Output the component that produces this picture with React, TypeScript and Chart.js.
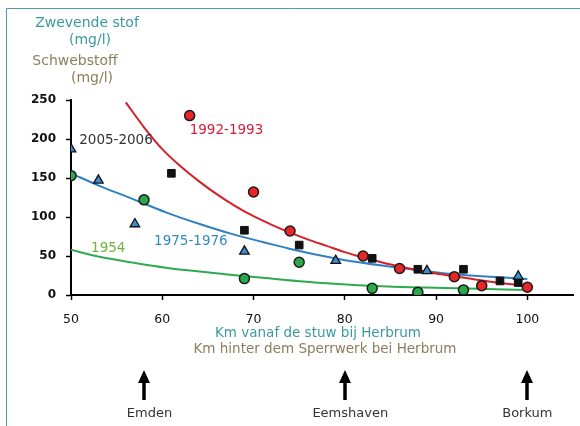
import React, { useEffect, useRef } from "react";
import { Chart, registerables } from "chart.js";

Chart.register(...registerables);

// Measured samples (km from the Herbrum weir, suspended matter mg/l)
const redKm = [63, 70, 74, 82, 86, 92, 95, 100];
const redVal = [230, 132, 82, 50, 34, 23.5, 12, 10];

const squareKm = [61, 69, 75, 83, 88, 93, 97, 99];
const squareVal = [156, 83, 64, 47, 33, 33, 18, 16];

const triKm = [50, 53, 57, 69, 79, 89, 99];
const triVal = [187, 147, 91, 56, 44, 31, 24];

const greenKm = [50, 58, 69, 75, 83, 88, 93];
const greenVal = [153, 122, 21, 42, 8.5, 3.5, 6.5];

// Trend curves
const redCurveKm = [56, 58, 60, 62, 64, 66, 68, 70, 72, 74, 76, 78, 80, 82, 84, 86, 88, 90, 92, 94, 96, 98, 100];
const redCurveVal = [247, 215, 187, 165, 146, 129, 114, 101, 90, 80, 71, 63, 55, 48, 42, 36.5, 32, 27.5, 24, 20.5, 17, 14, 11.5];

const blueCurveKm = [50, 53.1, 56.8, 60.4, 64.1, 67.7, 71, 74.4, 79.9, 85.3, 90.8, 100];
const blueCurveVal = [156, 140, 123, 106, 91, 78, 68, 58, 45, 36, 28, 20.5];

const greenCurveKm = [50, 53.1, 56.8, 60.4, 64.1, 67.7, 71, 78, 85.3, 92.6, 100];
const greenCurveVal = [58, 49, 41.5, 35, 30, 25.6, 22, 15, 10.6, 8.6, 6.4];

// Series labels: text, km, value
const seriesLabels = ["2005-2006", "1992-1993", "1975-1976", "1954"];
const seriesLabelKm = [50.9, 63.0, 59.1, 52.2];
const seriesLabelVal = [198, 211.5, 68.3, 59.4];
const seriesLabelColors = ["#333333", "#d3203a", "#2f8cc4", "#6cb33f"];

// Places along the river
const places = ["Emden", "Eemshaven", "Borkum"];
const placeKm = [58, 80, 100];
const placeLabelKm = [58.6, 80.6, 100];

const TEAL = "#3a9a9f";
const BROWN = "#8c7d5c";
const FONT = "'DejaVu Sans', Verdana, sans-serif";

const pts = (xs: number[], ys: number[]) => xs.map((x, i) => ({ x, y: ys[i] }));

const overlay = {
  id: "overlay",
  beforeDraw(chart: any) {
    const ctx = chart.ctx as CanvasRenderingContext2D;
    ctx.save();
    ctx.fillStyle = "#ffffff";
    ctx.fillRect(0, 0, chart.width, chart.height);
    ctx.strokeStyle = "#4a9ea0";
    ctx.lineWidth = 1;
    ctx.beginPath();
    ctx.moveTo(6.5, chart.height);
    ctx.lineTo(6.5, 8.5);
    ctx.lineTo(chart.width, 8.5);
    ctx.stroke();
    ctx.restore();
  },
  afterDraw(chart: any) {
    const ctx = chart.ctx as CanvasRenderingContext2D;
    const xs = chart.scales.x;
    const ys = chart.scales.y;
    ctx.save();
    ctx.textBaseline = "middle";

    // Axis titles for the value axis
    ctx.textAlign = "center";
    ctx.font = `14px ${FONT}`;
    ctx.fillStyle = TEAL;
    ctx.fillText("Zwevende stof", 87, 23);
    ctx.fillText("(mg/l)", 90, 40);
    ctx.fillStyle = BROWN;
    ctx.fillText("Schwebstoff", 75, 61);
    ctx.fillText("(mg/l)", 92, 78);

    // Axis titles for the distance axis
    ctx.font = `13.5px ${FONT}`;
    ctx.fillStyle = TEAL;
    ctx.fillText("Km vanaf de stuw bij Herbrum", 318, 333);
    ctx.fillStyle = BROWN;
    ctx.fillText("Km hinter dem Sperrwerk bei Herbrum", 325, 349);

    // Series labels
    ctx.textAlign = "left";
    ctx.font = `13.5px ${FONT}`;
    seriesLabels.forEach((t, i) => {
      ctx.fillStyle = seriesLabelColors[i];
      ctx.fillText(t, xs.getPixelForValue(seriesLabelKm[i]), ys.getPixelForValue(seriesLabelVal[i]));
    });

    // Place arrows
    ctx.fillStyle = "#000000";
    placeKm.forEach((km) => {
      const x = Math.round(xs.getPixelForValue(km));
      ctx.fillRect(x - 1.75, 380, 3.5, 20);
      ctx.beginPath();
      ctx.moveTo(x, 370);
      ctx.lineTo(x + 6, 383);
      ctx.lineTo(x - 6, 383);
      ctx.closePath();
      ctx.fill();
    });
    ctx.textAlign = "center";
    ctx.font = `13px ${FONT}`;
    ctx.fillStyle = "#333333";
    places.forEach((p, i) => {
      ctx.fillText(p, xs.getPixelForValue(placeLabelKm[i]), 414);
    });
    ctx.restore();
  },
};

export default function App() {
  const ref = useRef<HTMLCanvasElement>(null);

  useEffect(() => {
    document.body.style.margin = "0";
    Chart.defaults.font.family = FONT;
    const chart = new Chart(ref.current as HTMLCanvasElement, {
      type: "scatter",
      data: {
        datasets: [
          {
            label: "1992-1993",
            data: pts(redKm, redVal),
            pointStyle: "circle",
            pointRadius: 5,
            backgroundColor: "#e8262a",
            borderColor: "#1a1a1a",
            borderWidth: 1.5,
          },
          {
            label: "1954",
            data: pts(greenKm, greenVal),
            pointStyle: "circle",
            pointRadius: 5,
            backgroundColor: "#2aa84a",
            borderColor: "#1a1a1a",
            borderWidth: 1.5,
          },
          {
            label: "2005-2006",
            data: pts(triKm, triVal),
            pointStyle: "triangle",
            pointRadius: 5.5,
            backgroundColor: "#3a90cf",
            borderColor: "#111111",
            borderWidth: 1.3,
          },
          {
            label: "1975-1976",
            data: pts(squareKm, squareVal),
            pointStyle: "rect",
            pointRadius: 5.4,
            backgroundColor: "#111111",
            borderColor: "#111111",
            borderWidth: 1,
          },
          {
            label: "trend 1992-1993",
            data: pts(redCurveKm, redCurveVal),
            showLine: true,
            pointRadius: 0,
            borderColor: "#d42027",
            borderWidth: 2,
            cubicInterpolationMode: "monotone",
          },
          {
            label: "trend 1975-1976",
            data: pts(blueCurveKm, blueCurveVal),
            showLine: true,
            pointRadius: 0,
            borderColor: "#2f80c3",
            borderWidth: 2,
            cubicInterpolationMode: "monotone",
          },
          {
            label: "trend 1954",
            data: pts(greenCurveKm, greenCurveVal),
            showLine: true,
            pointRadius: 0,
            borderColor: "#2eaa4e",
            borderWidth: 2,
            cubicInterpolationMode: "monotone",
          },
        ],
      },
      options: {
        animation: false,
        responsive: false,
        devicePixelRatio: 1,
        layout: { padding: { left: 0, top: 100, right: 7, bottom: 0 } },
        plugins: {
          legend: { display: false },
          tooltip: { enabled: false },
        },
        scales: {
          x: {
            type: "linear",
            min: 50,
            max: 105,
            afterBuildTicks: (scale: any) => {
              scale.ticks = scale.ticks.filter((t: any) => t.value <= 100);
            },
            afterFit: (scale: any) => {
              scale.height = 131;
            },
            ticks: {
              stepSize: 10,
              padding: 12,
              color: "#111111",
              font: { size: 12.5, family: FONT },
              maxRotation: 0,
            },
            grid: {
              display: true,
              drawOnChartArea: false,
              drawTicks: true,
              tickLength: 5,
              tickColor: "#000000",
              tickWidth: 1.5,
            },
            border: { display: true, color: "#000000", width: 2 },
          },
          y: {
            type: "linear",
            min: 0,
            max: 250,
            afterFit: (scale: any) => {
              scale.width = 71;
            },
            ticks: {
              stepSize: 50,
              padding: 10,
              color: "#111111",
              font: { size: 12, weight: "bold", family: FONT },
            },
            grid: {
              display: true,
              drawOnChartArea: false,
              drawTicks: true,
              tickLength: 5,
              tickColor: "#000000",
              tickWidth: 1.5,
            },
            border: { display: true, color: "#000000", width: 2 },
          },
        },
      },
      plugins: [overlay],
    } as any);
    return () => chart.destroy();
  }, []);

  return (
    <div style={{ width: 580, height: 426 }}>
      <canvas ref={ref} width={580} height={426} style={{ display: "block" }} />
    </div>
  );
}
